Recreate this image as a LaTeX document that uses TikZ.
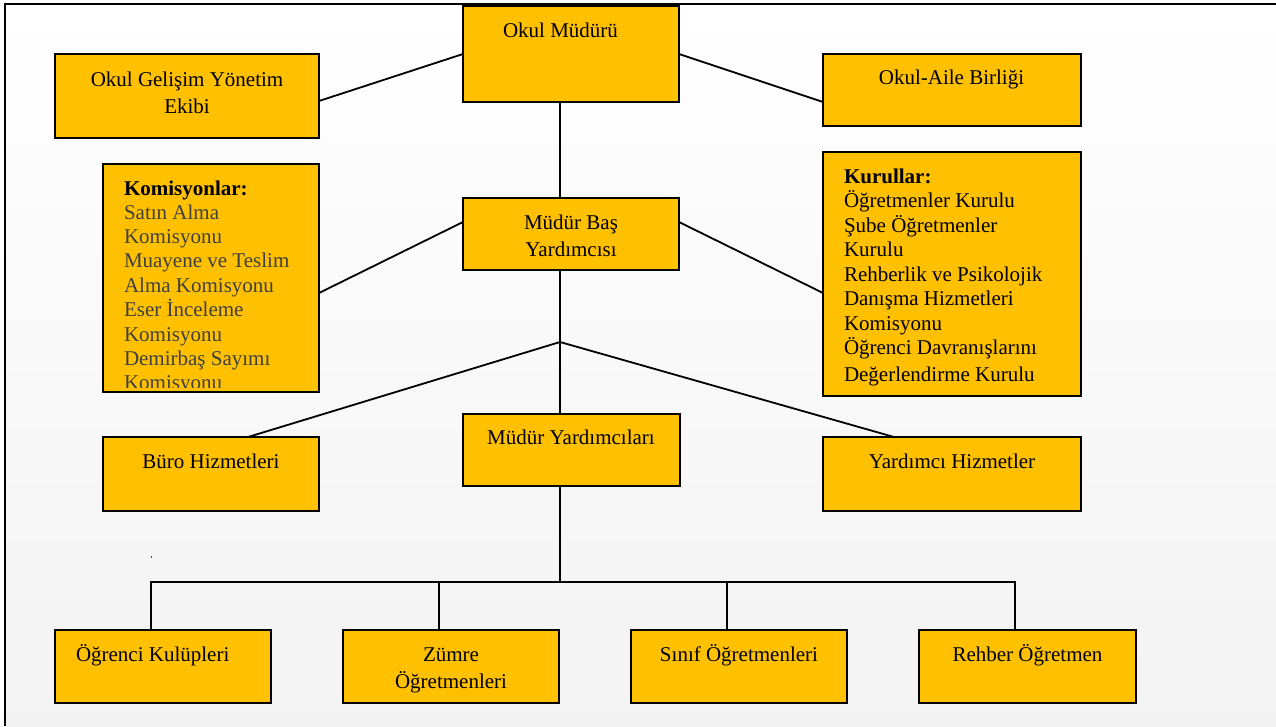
\documentclass[tikz,border=0pt]{standalone}
\usepackage{fontspec}
\setmainfont{Liberation Serif}
\definecolor{gold}{HTML}{FFC000}
\definecolor{itemgray}{HTML}{404040}
\tikzset{
  orgbox/.style={draw=black, fill=gold, line width=1.6pt, inner sep=0pt, outer sep=0pt, anchor=north west},
  conn/.style={draw=black, line width=1.8pt},
  lbl/.style={inner sep=0pt, outer sep=0pt, anchor=base, font=\fontsize{21}{27.5}\selectfont},
  lblw/.style={lbl, anchor=base west},
}
\begin{document}
\begin{tikzpicture}[x=1pt, y=-1pt]
\useasboundingbox (0,0) rectangle (1276,726);
% background and frame
\shade[top color=white, bottom color=black!5] (5,4) rectangle (1276,726);
\draw[line width=2pt] (5,726) -- (5,4) -- (1276,4);

% boxes
\node[orgbox, minimum width=216pt, minimum height=96pt] (om) at (463,6) {};
\node[orgbox, minimum width=264pt, minimum height=84pt] (ogye) at (55,54) {};
\node[orgbox, minimum width=258pt, minimum height=72pt] (oab) at (823,54) {};
\node[orgbox, minimum width=216pt, minimum height=228pt] (kom) at (103,164) {};
\node[orgbox, minimum width=216pt, minimum height=72pt] (mby) at (463,198) {};
\node[orgbox, minimum width=258pt, minimum height=244pt] (kur) at (823,152) {};
\node[orgbox, minimum width=216pt, minimum height=74pt] (buro) at (103,437) {};
\node[orgbox, minimum width=217pt, minimum height=72pt] (my) at (463,414) {};
\node[orgbox, minimum width=258pt, minimum height=74pt] (yh) at (823,437) {};
\node[orgbox, minimum width=216pt, minimum height=73pt] (ok) at (55,630) {};
\node[orgbox, minimum width=216pt, minimum height=73pt] (zo) at (343,630) {};
\node[orgbox, minimum width=216pt, minimum height=73pt] (so) at (631,630) {};
\node[orgbox, minimum width=217pt, minimum height=73pt] (ro) at (919,630) {};

% connectors
\coordinate (j) at (560,342);
\coordinate (h) at (560,582);
\draw[conn] ([xshift=-11pt]om.south) -- ([xshift=-11pt]mby.north);
\draw[conn] (om.west) -- ([yshift=-5pt]ogye.east);
\draw[conn] (om.east) -- ([yshift=-12pt]oab.west);
\draw[conn] ([yshift=12pt]mby.west) -- ([yshift=-15pt]kom.east);
\draw[conn] ([yshift=12pt]mby.east) -- ([yshift=-19pt]kur.west);
\draw[conn] ([xshift=-11pt]mby.south) -- (j) -- (j |- my.north);
\draw[conn] (j) -- ([xshift=37pt]buro.north);
\draw[conn] (j) -- ([xshift=-58pt]yh.north);
\draw[conn] (h |- my.south) -- (h);
\draw[conn] ([xshift=-12pt]ok.north) -- ([xshift=-12pt]ok.north |- h) -- ([xshift=-12.5pt]ro.north |- h) -- ([xshift=-12.5pt]ro.north);
\draw[conn] ([xshift=-12pt]zo.north |- h) -- ([xshift=-12pt]zo.north);
\draw[conn] ([xshift=-12pt]so.north |- h) -- ([xshift=-12pt]so.north);

% stray mark
\node[fill=black!70, inner sep=0pt, minimum width=1pt, minimum height=2pt] (dot) at (151,557) {};

% labels
\node[lbl] (omt) at (560.5,37) {Okul Müdürü};
\node[lbl] (ogyet) at (187,86) {\begin{tabular}[t]{@{}c@{}}Okul Gelişim Yönetim\\Ekibi\end{tabular}};
\node[lbl] (oabt) at (951.5,84) {Okul-Aile Birliği};
\begin{scope}
\clip (104,165) rectangle (318,387);
\node[lblw, font=\fontsize{21}{24.3}\selectfont] (komt) at (124,195) {\begin{tabular}[t]{@{}l@{}}\textbf{Komisyonlar:}\\
\color{itemgray}Satın Alma\\
\color{itemgray}Komisyonu\\
\color{itemgray}Muayene ve Teslim\\
\color{itemgray}Alma Komisyonu\\
\color{itemgray}Eser İnceleme\\
\color{itemgray}Komisyonu\\
\color{itemgray}Demirbaş Sayımı\\
\color{itemgray}Komisyonu\end{tabular}};
\end{scope}
\node[lbl] (mbyt) at (571,229) {\begin{tabular}[t]{@{}c@{}}Müdür Baş\\Yardımcısı\end{tabular}};
\node[lblw, font=\fontsize{21}{24.55}\selectfont] (kurt) at (844,183) {\begin{tabular}[t]{@{}l@{}}\textbf{Kurullar:}\\
Öğretmenler Kurulu\\
Şube Öğretmenler\\
Kurulu\\
Rehberlik ve Psikolojik\\
Danışma Hizmetleri\\
Komisyonu\\
Öğrenci Davranışlarını\\[2.5pt]
Değerlendirme Kurulu\end{tabular}};
\node[lbl] (burot) at (211,468) {Büro Hizmetleri};
\node[lbl] (myt) at (571,444) {Müdür Yardımcıları};
\node[lbl] (yht) at (952,468) {Yardımcı Hizmetler};
\node[lblw] (okt) at (76,661) {Öğrenci Kulüpleri};
\node[lbl] (zot) at (451,661) {\begin{tabular}[t]{@{}c@{}}Zümre\\Öğretmenleri\end{tabular}};
\node[lbl] (sot) at (739,661) {Sınıf Öğretmenleri};
\node[lbl] (rot) at (1027.5,661) {Rehber Öğretmen};
\end{tikzpicture}
\end{document}
